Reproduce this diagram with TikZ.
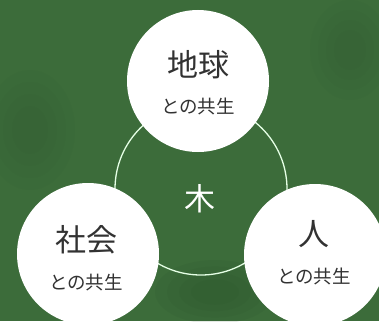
\documentclass[tikz,border=0pt]{standalone}
\usepackage{fontspec}
\newfontfamily\cjk{Noto Sans CJK JP}
\definecolor{bggreen}{RGB}{60,108,58}
\definecolor{darkpatch}{RGB}{42,82,42}
\definecolor{inktext}{RGB}{50,50,50}
\begin{document}
\begin{tikzpicture}[x=1pt,y=-1pt,
  bubble/.style={circle,fill=white,draw=none,minimum size=142pt,inner sep=0pt},
  maintxt/.style={font=\cjk\fontsize{31}{31}\selectfont,text=inktext,inner sep=0pt},
  subtxt/.style={font=\cjk\fontsize{18.5}{18.5}\selectfont,text=inktext,inner sep=0pt},
  ring/.style={circle,draw=white!90!green,line width=1.3pt,minimum size=172pt,inner sep=0pt},
  softpatch/.style={fill=darkpatch,opacity=0.12}]
  \fill[bggreen] (0,0) rectangle (379,321);
  \useasboundingbox (0,0) rectangle (379,321);
  \begin{scope}
    \clip (0,0) rectangle (379,321);
    \foreach \s in {1,0.8,0.6,0.4} {
      \fill[softpatch] (215,292) ellipse ({60*\s} and {32*\s});
      \fill[softpatch,opacity=0.06] (30,130) ellipse ({45*\s} and {60*\s});
      \fill[softpatch,opacity=0.06] (350,50) ellipse ({40*\s} and {50*\s});
    }
  \end{scope}
  \node[ring] (ring) at (201,189) {};
  \node[maintxt,text=white] (ki) at (200,199) {木};
  \node[bubble] (earth) at (198,81) {};
  \node[bubble] (society) at (88,254) {};
  \node[bubble] (person) at (315,255) {};
  \node[maintxt] (earthT) at (198,65) {地球};
  \node[subtxt] (earthS) at (198,106) {との共生};
  \node[maintxt] (societyT) at (86,240) {社会};
  \node[subtxt] (societyS) at (86,282) {との共生};
  \node[maintxt] (personT) at (314,234) {人};
  \node[subtxt] (personS) at (314,276) {との共生};
\end{tikzpicture}
\end{document}
